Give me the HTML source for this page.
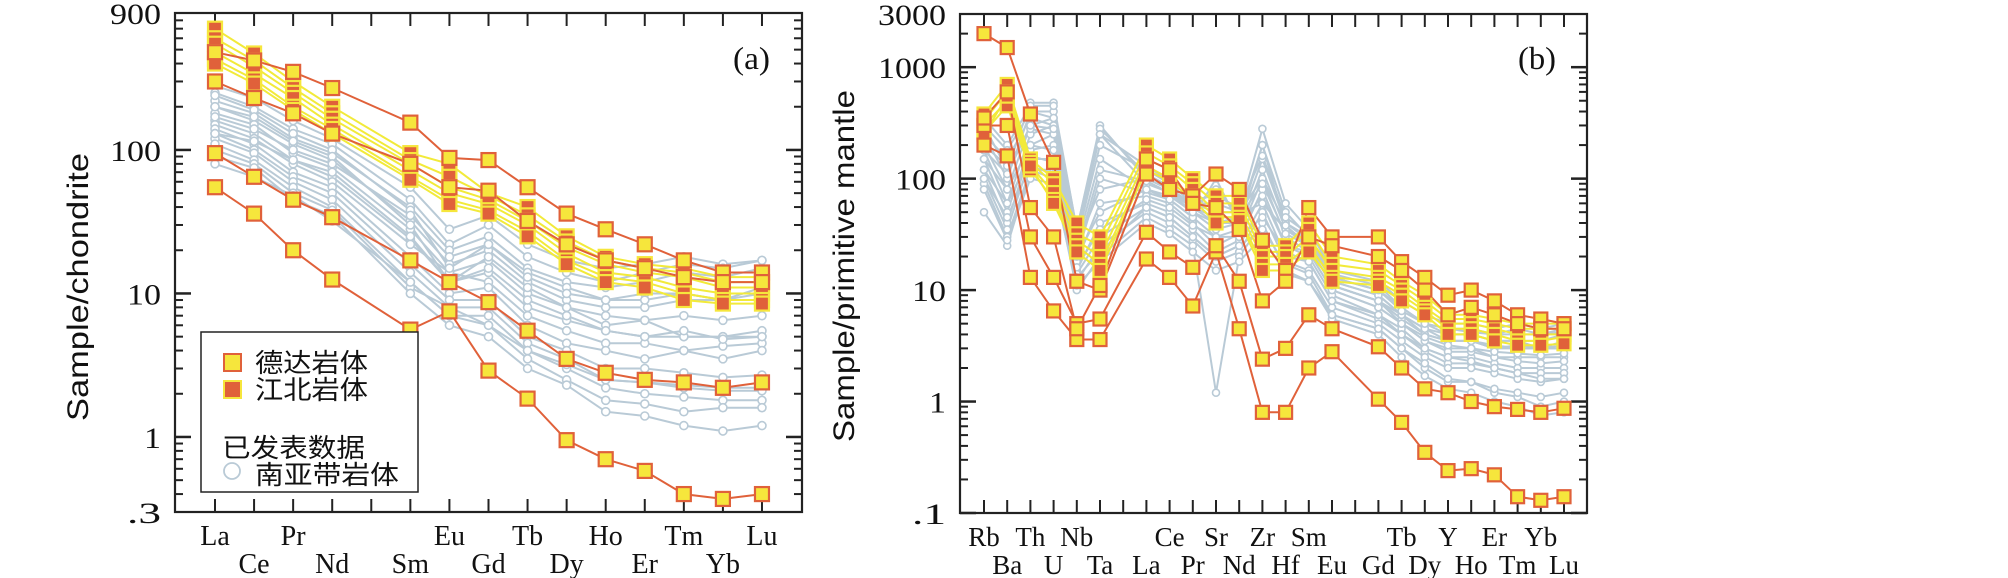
<!DOCTYPE html>
<html><head><meta charset="utf-8">
<style>
html,body{margin:0;padding:0;background:#fff;}
svg{display:block;}
text{font-family:"Liberation Serif","Noto Serif CJK SC",serif;fill:#111;}
.ylab{font-family:"Liberation Sans","Noto Sans CJK SC",sans-serif;}
.cjk{font-family:"Liberation Sans","Noto Sans CJK SC",sans-serif;}
</style></head>
<body>
<svg id="chart" width="2008" height="578" viewBox="0 0 2008 578" xmlns="http://www.w3.org/2000/svg">
  <g id="panelA"></g>
  <g id="panelB"></g>
  <text x="80" y="287" class="ylab" font-size="30" text-anchor="middle" textLength="268" lengthAdjust="spacingAndGlyphs" transform="rotate(-90 80 287)" dominant-baseline="middle">Sample/chondrite</text>
  <text x="846" y="266" class="ylab" font-size="30" text-anchor="middle" textLength="352" lengthAdjust="spacingAndGlyphs" transform="rotate(-90 846 266)" dominant-baseline="middle">Sample/primitive mantle</text>
  <text x="733" y="69" font-size="32" textLength="37" lengthAdjust="spacingAndGlyphs">(a)</text>
  <text x="1518" y="69" font-size="32" textLength="38" lengthAdjust="spacingAndGlyphs">(b)</text>
  <g>
    <rect x="201" y="332" width="217" height="160" fill="#fff" stroke="#222" stroke-width="1.5"/>
    <rect x="224" y="354" width="17" height="17" fill="#f6e63c" stroke="#e0613a" stroke-width="2"/>
    <text x="255" y="372" class="cjk" font-size="26" textLength="113" lengthAdjust="spacingAndGlyphs">德达岩体</text>
    <rect x="224" y="381" width="17" height="17" fill="#e0613a" stroke="#f6e63c" stroke-width="2"/>
    <text x="255" y="399" class="cjk" font-size="26" textLength="113" lengthAdjust="spacingAndGlyphs">江北岩体</text>
    <text x="222" y="457" class="cjk" font-size="26" textLength="143" lengthAdjust="spacingAndGlyphs">已发表数据</text>
    <circle cx="232" cy="471" r="8" fill="none" stroke="#b9cad6" stroke-width="1.8"/>
    <text x="255" y="484" class="cjk" font-size="26" textLength="144" lengthAdjust="spacingAndGlyphs">南亚带岩体</text>
  </g>
</svg>
<script>
// ---------- Panel (a) data: chondrite normalized REE ----------
const aCats = ["La","Ce","Pr","Nd","Sm","Eu","Gd","Tb","Dy","Ho","Er","Tm","Yb","Lu"];
const aTicks = ["900","100","10","1",".3"];
const aTickVals = [900,100,10,1,0.3];
const aDeda1 = [95,65,45,34,17,12,8.7,5.5,3.5,2.8,2.5,2.4,2.2,2.4];
const aDeda2 = [55,36,20,12.5,5.6,7.5,2.9,1.85,0.95,0.7,0.58,0.4,0.37,0.4];
const aDeda3 = [480,420,350,270,155,88,85,55,36,28,22,17,14,14];
const aDeda4 = [300,230,180,130,80,55,52,32,22,17,15,13,12,12];
const aJiang1 = [700,470,300,200,95,80,50,40,25,18,16,15,13,13];
const aJiang2 = [600,420,270,180,85,65,48,35,23,17,15,14,12,12];
const aJiang3 = [550,380,250,165,80,55,45,32,21,16,14,13,11,11];
const aJiang4 = [480,340,230,150,72,50,42,30,19,14,13,11,10,10];
const aJiang5 = [430,310,200,140,65,45,38,27,17,13,12,10,9,9];
const aJiang6 = [400,290,190,130,62,42,36,25,16,12,11,9,8.5,8.5];
const aGray1 = [280,230,160,120,55,28,35,22,17,15,16,18,16,17];
const aGray2 = [250,200,140,110,45,22,30,18,14,12,14,16,15,17];
const aGray3 = [220,180,120,95,40,20,25,15,12,11,12,14,13,15];
const aGray4 = [200,160,110,85,32,16,20,12,9,8,8,9,9,9];
const aGray5 = [180,150,95,75,28,14,17,10,8,7,6.5,7,6.5,7];
const aGray6 = [160,130,85,65,24,12,14,8,6.5,5.5,5,5,5,5];
const aGray7 = [150,120,80,60,22,14,12,7,5.5,4.5,4.5,4,4.3,4.5];
const aGray8 = [140,110,70,55,18,10,11,6,4.5,4,3.5,4,3.5,4];
const aGray9 = [130,100,65,50,16,9,9,5,4,3,3,2.8,2.6,2.7];
const aGray10 = [120,95,60,45,14,8,8,4.5,3.5,2.5,2.4,2.3,2.2,2.2];
const aGray11 = [110,85,55,40,12,7,7,4,3,2.2,2,1.9,1.8,1.8];
const aGray12 = [100,80,50,38,11,8,6,3.5,2.5,1.8,1.7,1.5,1.6,1.6];
const aGray13 = [90,75,45,35,10,6,5,3,2.3,1.5,1.4,1.2,1.1,1.2];
const aGray14 = [80,65,48,32,12,7,6,4,3.2,2.5,2.4,2.2,2.1,2.1];
const aGray15 = [240,190,130,100,38,15,22,14,11,9,10,10,9,11];
const aGray16 = [200,170,115,90,30,12,18,11,8,6,6.5,5,5,5.5];
const aGray17 = [170,140,100,80,35,18,22,13,10,9,9,10,9,10];
const aGray18 = [130,115,85,70,25,12,15,9,7,5.5,5,5.5,4.8,5];

// ---------- Panel (b) data: primitive mantle normalized ----------
const bCats = ["Rb","Ba","Th","U","Nb","Ta","La","Ce","Pr","Sr","Nd","Zr","Hf","Sm","Eu","Gd","Tb","Dy","Y","Ho","Er","Tm","Yb","Lu"];
const bTicks = ["3000","1000","100","10","1",".1"];
const bTickVals = [3000,1000,100,10,1,0.1];
const bDeda1 = [200,160,13,6.5,3.6,3.6,19,13,7.2,22,4.5,0.8,0.8,2.0,2.8,1.05,0.65,0.35,0.24,0.25,0.22,0.14,0.13,0.14];
const bDeda2 = [300,300,30,13,5,5.5,33,22,16,25,12,2.4,3,6,4.5,3.1,2,1.3,1.2,1.0,0.9,0.85,0.8,0.87];
const bDeda3 = [2000,1500,380,140,12,10,110,80,70,110,80,28,15,55,30,30,18,13,9,10,8,6,5.5,5];
const bDeda4 = [350,600,55,30,4.5,11,150,120,60,55,35,8,12,30,25,20,15,10,6,7,6,5,4.5,4.5];
const bJiang1 = [380,700,150,100,40,30,200,150,100,70,70,25,25,40,20,17,12,9,6,6,5.5,5,5,5];
const bJiang2 = [330,600,140,90,32,25,170,130,90,60,60,22,22,35,17,15,11,8,5.5,5.5,5,4.5,4.5,4.5];
const bJiang3 = [300,500,130,75,28,20,150,120,80,50,50,20,20,30,15,13,10,7,5,5,4.5,4,4,4];
const bJiang4 = [260,450,120,65,25,17,130,100,70,45,45,17,17,25,13,12,9,6.5,4.5,4.5,4,3.5,3.5,3.8];
const bJiang5 = [250,550,130,60,22,15,120,95,65,40,42,15,15,22,12,11,8,6,4,4,3.5,3.2,3.2,3.3];
const bGray1 = [300,120,480,480,35,300,100,80,60,50,50,280,60,35,15,12,8,6,5,5,4.5,5,4.5,5];
const bGray2 = [250,100,400,400,30,250,90,75,55,40,45,200,50,30,13,10,7,5,4.5,4.5,4,4,4,4.5];
const bGray3 = [200,80,300,350,25,150,80,70,50,35,40,150,40,28,12,9,6,4.5,4,4,3.5,3.5,3.5,4];
const bGray4 = [180,60,250,300,20,100,75,65,45,30,35,120,35,25,11,8,5.5,4,3.5,3.5,3,3,3,3];
const bGray5 = [150,50,200,250,18,60,70,60,40,25,32,100,30,22,10,7,5,3.5,3,3,2.5,2.5,2.5,2.5];
const bGray6 = [120,40,180,200,15,40,60,50,35,22,28,80,25,20,9,6,4.5,3,2.5,2.5,2.2,2,2,2];
const bGray7 = [100,35,150,150,14,30,55,45,30,20,25,60,20,18,8,5.5,4,2.8,2.2,2.2,2,1.8,1.8,1.8];
const bGray8 = [90,30,120,120,12,25,50,40,28,18,22,50,18,15,7,5,3.5,2.5,2,2,1.8,1.6,1.5,1.6];
const bGray9 = [250,150,350,300,28,200,120,90,60,60,50,100,40,30,14,11,7,5,4,4,3.5,3.5,3,3.5];
const bGray10 = [350,200,450,450,35,280,110,85,55,80,48,60,35,28,12,9,6,4,3.5,3.5,3.2,3,3,3.2];
const bGray11 = [50,25,120,100,10,20,45,35,25,1.2,20,40,15,12,6,4.5,3,2,1.5,1.5,1.2,1.1,0.9,1];
const bGray12 = [150,80,200,180,20,50,80,65,45,100,38,70,25,22,10,7,5,3.5,2.8,2.8,2.5,2.3,2.2,2.3];
const bGray13 = [200,130,280,250,25,80,100,80,55,45,45,90,32,25,11,8,6,4.5,3.5,3.5,3,3.2,3,3];
const bGray14 = [120,60,160,140,16,35,65,55,38,30,30,45,22,18,8,6,4,3,2.5,2.3,2,1.8,1.6,1.6];
const bGray15 = [80,28,100,90,11,18,40,32,22,15,18,30,14,12,5.5,4,2.5,1.7,1.3,1.2,1,0.9,0.75,0.8];
const bGray16 = [100,45,130,110,13,22,55,45,30,20,25,35,17,14,6,4.5,3,2.2,1.6,1.5,1.3,1.2,1.1,1.2];
const bGray17 = [300,180,400,350,30,250,130,95,65,70,55,160,45,32,13,10,6.5,5,4.5,4.2,4,4.5,4,4.2];
const bGray18 = [180,110,300,280,22,120,95,75,50,40,40,200,38,25,11,8,5,3.8,3.2,3,2.8,2.7,2.6,2.7];

const aDeda = [aDeda1,aDeda2,aDeda3,aDeda4];
const aJiang = [aJiang1,aJiang2,aJiang3,aJiang4,aJiang5,aJiang6];
const aGray = [aGray1,aGray2,aGray3,aGray4,aGray5,aGray6,aGray7,aGray8,aGray9,aGray10,aGray11,aGray12,aGray13,aGray14,aGray15,aGray16,aGray17,aGray18];
const bDeda = [bDeda1,bDeda2,bDeda3,bDeda4];
const bJiang = [bJiang1,bJiang2,bJiang3,bJiang4,bJiang5];
const bGray = [bGray1,bGray2,bGray3,bGray4,bGray5,bGray6,bGray7,bGray8,bGray9,bGray10,bGray11,bGray12,bGray13,bGray14,bGray15,bGray16,bGray17,bGray18];

// ---------- layout (not data) ----------
const NS = "http://www.w3.org/2000/svg";
const GRAY = "#b9cad6", ORANGE = "#e0613a", YEL = "#f6e63c", YLINE = "#f2ea3a";
function mk(tag, attrs, parent){
  const e = document.createElementNS(NS, tag);
  for (const k in attrs) e.setAttribute(k, attrs[k]);
  parent.appendChild(e);
  return e;
}
function drawPanel(g, cfg, cats, gray, jiang, deda, tickLabels, tickVals, prefix){
  const lmax = Math.log10(cfg.vmax), lmin = Math.log10(cfg.vmin);
  const yScale = v => cfg.y0 + (lmax - Math.log10(v)) / (lmax - lmin) * (cfg.y1 - cfg.y0);
  const xScale = i => cfg.xFirst + cfg.slots[i] * cfg.step;
  // frame
  const frame = mk("rect", {x:cfg.x0, y:cfg.y0, width:cfg.x1-cfg.x0, height:cfg.y1-cfg.y0, fill:"none", stroke:"#222", "stroke-width":2.2}, g);
  
  
  // x ticks
  for (let s = 0; s <= cfg.maxSlot; s++){
    const x = cfg.xFirst + s * cfg.step;
    const t1 = mk("line", {x1:x, y1:cfg.y0, x2:x, y2:cfg.y0+13, stroke:"#222", "stroke-width":2}, g);
    
    
    const t2 = mk("line", {x1:x, y1:cfg.y1, x2:x, y2:cfg.y1-13, stroke:"#222", "stroke-width":2}, g);
    
    
  }
  // y log ticks
  for (let d = Math.floor(lmin); d <= Math.ceil(lmax); d++){
    for (let m = 1; m <= 9; m++){
      const v = m * Math.pow(10, d);
      if (v < cfg.vmin*0.999 || v > cfg.vmax*1.001) continue;
      const y = yScale(v);
      const len = m === 1 ? 16 : 8;
      const sw = m === 1 ? 2.5 : 2;
      const l1 = mk("line", {x1:cfg.x0, y1:y, x2:cfg.x0+len, y2:y, stroke:"#222", "stroke-width":sw}, g);
      
      
      const l2 = mk("line", {x1:cfg.x1, y1:y, x2:cfg.x1-len, y2:y, stroke:"#222", "stroke-width":sw}, g);
      
      
    }
  }
  // y tick labels
  tickLabels.forEach((lab, i) => {
    const t = mk("text", {x:cfg.x0-14, y:yScale(tickVals[i]) + 11, "font-size":30, "text-anchor":"end", textLength: lab.length*17, lengthAdjust:"spacingAndGlyphs"}, g);
    t.textContent = lab;
    
    
  });
  // x labels
  cats.forEach((c, i) => {
    const y = cfg.rows[i] === 0 ? cfg.labY1 : cfg.labY2;
    const t = mk("text", {x:xScale(i), y:y, "font-size":cfg.labFs, "text-anchor":"middle"}, g);
    t.textContent = c;
    
    
  });
  const pts = arr => arr.map((v, i) => xScale(i).toFixed(1) + "," + yScale(v).toFixed(1)).join(" ");
  // gray lines
  gray.forEach(s => {
    const p = mk("polyline", {points:pts(s), fill:"none", stroke:GRAY, "stroke-width":2}, g);
    
    
  });
  gray.forEach(s => s.forEach((v, i) => {
    const c = mk("circle", {cx:xScale(i), cy:yScale(v), r:cfg.cr, fill:"#fff", stroke:GRAY, "stroke-width":1.6}, g);
    
    
  }));
  jiang.forEach(s => {
    const p = mk("polyline", {points:pts(s), fill:"none", stroke:YLINE, "stroke-width":2}, g);
    
    
  });
  deda.forEach(s => {
    const p = mk("polyline", {points:pts(s), fill:"none", stroke:ORANGE, "stroke-width":2}, g);
    
    
  });
  const h = cfg.ms/2;
  jiang.forEach(s => s.forEach((v, i) => {
    const r = mk("rect", {x:xScale(i)-h, y:yScale(v)-h, width:cfg.ms, height:cfg.ms, fill:ORANGE, stroke:YEL, "stroke-width":2.2}, g);
    
    
  }));
  deda.forEach(s => s.forEach((v, i) => {
    const r = mk("rect", {x:xScale(i)-h, y:yScale(v)-h, width:cfg.ms, height:cfg.ms, fill:YEL, stroke:ORANGE, "stroke-width":2.2}, g);
    
    
  }));
}
drawPanel(document.getElementById("panelA"), {
  x0:175, x1:802, y0:13, y1:512, vmax:900, vmin:0.3,
  xFirst:215, step:39.07, slots:[0,1,2,3,5,6,7,8,9,10,11,12,13,14], maxSlot:14,
  rows:[0,1,0,1,1,0,1,0,1,0,1,0,1,0], labY1:545, labY2:573, labFs:28, ms:14, cr:4
}, aCats, aGray, aJiang, aDeda, aTicks, aTickVals, "a");
drawPanel(document.getElementById("panelB"), {
  x0:960, x1:1587, y0:14, y1:513, vmax:3000, vmin:0.1,
  xFirst:984, step:23.2, slots:[0,1,2,3,4,5,7,8,9,10,11,12,13,14,15,17,18,19,20,21,22,23,24,25], maxSlot:25,
  rows:[0,1,0,1,0,1,1,0,1,0,1,0,1,0,1,1,0,1,0,1,0,1,0,1], labY1:546, labY2:574, labFs:27, ms:13, cr:3.5
}, bCats, bGray, bJiang, bDeda, bTicks, bTickVals, "b");
</script>
</body></html>
